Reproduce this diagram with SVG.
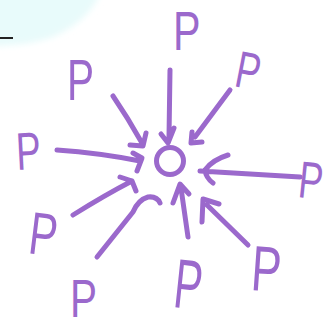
<svg xmlns="http://www.w3.org/2000/svg" width="328" height="328" viewBox="0 0 328 328">
<defs>
<filter id="soft" x="-20%" y="-20%" width="140%" height="140%"><feGaussianBlur stdDeviation="3"/></filter>
<style>
.p{font-family:"Liberation Sans",Arial,sans-serif;fill:#9b69cc}
.a{fill:none;stroke:#9b69cc;stroke-width:5;stroke-linecap:round;stroke-linejoin:round}
</style>
</defs>
<rect width="328" height="328" fill="#ffffff"/>
<path d="M-10,-10 L102,-10 Q90,20 55,36 Q30,46 -10,46 Z" fill="#e8fbfb" filter="url(#soft)"/>
<line x1="0" y1="38" x2="13" y2="38" stroke="#222" stroke-width="2"/>
<g id="connectors">
<path class="a" d="M113,96 Q128,118 142,143 M130,145 L143,146 L146,133"/>
<path class="a" d="M170,70 L169,137 M161,134 L168,143 L174,128"/>
<path class="a" d="M230,90 L195,137 M192,132 L191,143 L202,142"/>
<path class="a" d="M57,150 Q100,153 140,161 M133,153 L142,158 L137,171"/>
<path class="a" d="M300,177 Q250,174 200,171 M228,155 Q212,160 205,170 Q206,178 213,183"/>
<path class="a" d="M73,215 Q105,195 132,181 M120,177 L132,181 L136,191"/>
<path class="a" d="M97,257 L133,212 Q138,200 148,197 Q157,196 160,203"/>
<path class="a" d="M188,237 L181,188 M173,203 L180,184 L189,194"/>
<path class="a" d="M248,245 L207,205 M202,222 L203,199 L219,204"/>
</g>
<g id="center"><circle cx="170" cy="161" r="13.5" fill="none" stroke="#9b69cc" stroke-width="5"/></g>
<g id="p1"><text class="p" font-size="55" transform="translate(173,50) scale(0.75,1)">P</text></g>
<g id="p2"><text class="p" font-size="52" transform="translate(233,86) rotate(11) scale(0.7,1)">P</text></g>
<g id="p3"><text class="p" font-size="58" transform="translate(67,100) scale(0.7,1)">P</text></g>
<g id="p4"><text class="p" font-size="53" transform="translate(17,170) rotate(-3) scale(0.7,1)">P</text></g>
<g id="p5"><text class="p" font-size="52" transform="translate(297,197) rotate(6) scale(0.7,1)">P</text></g>
<g id="p6"><text class="p" font-size="60" transform="translate(27,253) rotate(7) scale(0.7,1)">P</text></g>
<g id="p7"><text class="p" font-size="54" transform="translate(70,316.5) scale(0.75,1)">P</text></g>
<g id="p8"><text class="p" font-size="70" transform="translate(172,307) rotate(6) scale(0.6,1)">P</text></g>
<g id="p9"><text class="p" font-size="64" transform="translate(250,290) rotate(4) scale(0.7,1)">P</text></g>
</svg>
